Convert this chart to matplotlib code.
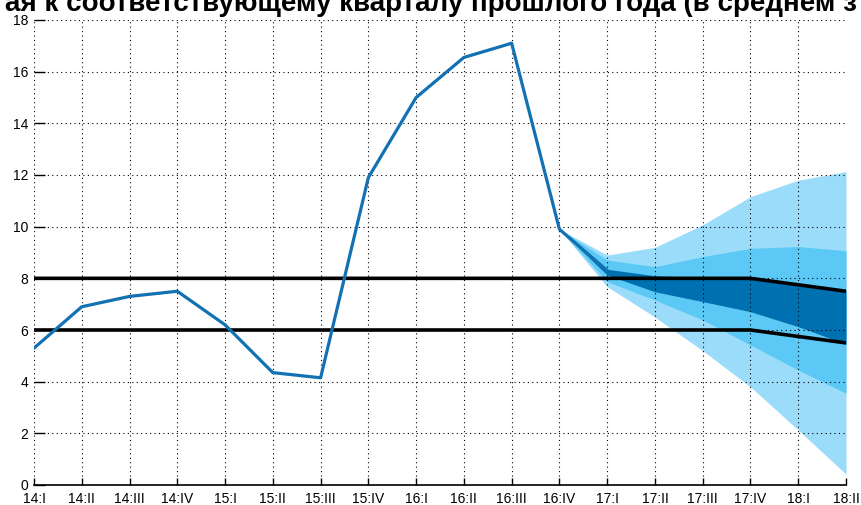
import numpy as np
import matplotlib.pyplot as plt

# Кварталы
quarters = ['14:I', '14:II', '14:III', '14:IV', '15:I', '15:II', '15:III', '15:IV',
            '16:I', '16:II', '16:III', '16:IV', '17:I', '17:II', '17:III', '17:IV',
            '18:I', '18:II']

# Фактическая инфляция (14:I - 17:I)
fact = [5.3, 6.9, 7.3, 7.5, 6.2, 4.35, 4.15, 11.9, 15.0, 16.55, 17.1, 9.9, 8.3]

# Веер прогноза (16:IV - 18:II)
outer_hi = [9.9, 8.9, 9.2, 10.07, 11.16, 11.8, 12.13]
outer_lo = [9.9, 7.68, 6.5, 5.2, 3.8, 2.13, 0.42]
mid_hi = [9.9, 8.71, 8.45, 8.84, 9.16, 9.23, 9.07]
mid_lo = [9.9, 7.87, 7.16, 6.39, 5.42, 4.45, 3.55]
dark_hi = [9.9, 8.35, 8.1, 8.03, 8.0, 7.8, 7.55]
dark_lo = [9.9, 8.13, 7.48, 7.1, 6.71, 6.13, 5.45]

# Целевой коридор
target_hi = [8] * 16 + [7.75, 7.5]
target_lo = [6] * 16 + [5.75, 5.5]

x = np.arange(len(quarters))
xf = x[11:]

fig = plt.figure(figsize=(8.61, 5.05), dpi=100)
ax = fig.add_axes([34 / 861, 20 / 505, 812 / 861, 465 / 505])

# веер: от широкого к узкому
ax.fill_between(xf, outer_lo, outer_hi, color='#9adcfa', lw=0, zorder=1)
ax.fill_between(xf, mid_lo, mid_hi, color='#5bc8f5', lw=0, zorder=1)
ax.fill_between(xf, dark_lo, dark_hi, color='#0071b0', lw=0, zorder=1)

ax.plot(x, target_hi, color='black', lw=2.6, zorder=3)
ax.plot(x, target_lo, color='black', lw=2.6, zorder=3)
ax.plot(x[:len(fact)], fact, color='#1171b2', lw=2.3, zorder=4)

ax.set_xlim(0, 17)
ax.set_ylim(0, 18)
ax.set_xticks(x)
ax.set_xticklabels(quarters)
ax.set_yticks(np.arange(0, 19, 2))
ax.grid(True, color='black', ls=(0, (1, 3)), lw=0.8, zorder=2)
ax.set_axisbelow(False)
for s in ['top', 'right', 'left']:
    ax.spines[s].set_visible(False)
ax.spines['bottom'].set_linewidth(1.2)
ax.tick_params(direction='in', length=5, width=1, labelsize=10)
ax.tick_params(axis='x', pad=5)
ax.tick_params(axis='y', length=8, pad=4)
for lab in ax.get_xticklabels() + ax.get_yticklabels():
    lab.set_family('Liberation Sans')

fig.text(0.5, 1 - 11 / 505, 'ая к соответствующему кварталу прошлого года (в среднем з',
         ha='center', va='baseline', fontsize=20, fontweight='bold',
         family='Liberation Sans')

fig.savefig('out.png', dpi=100)
